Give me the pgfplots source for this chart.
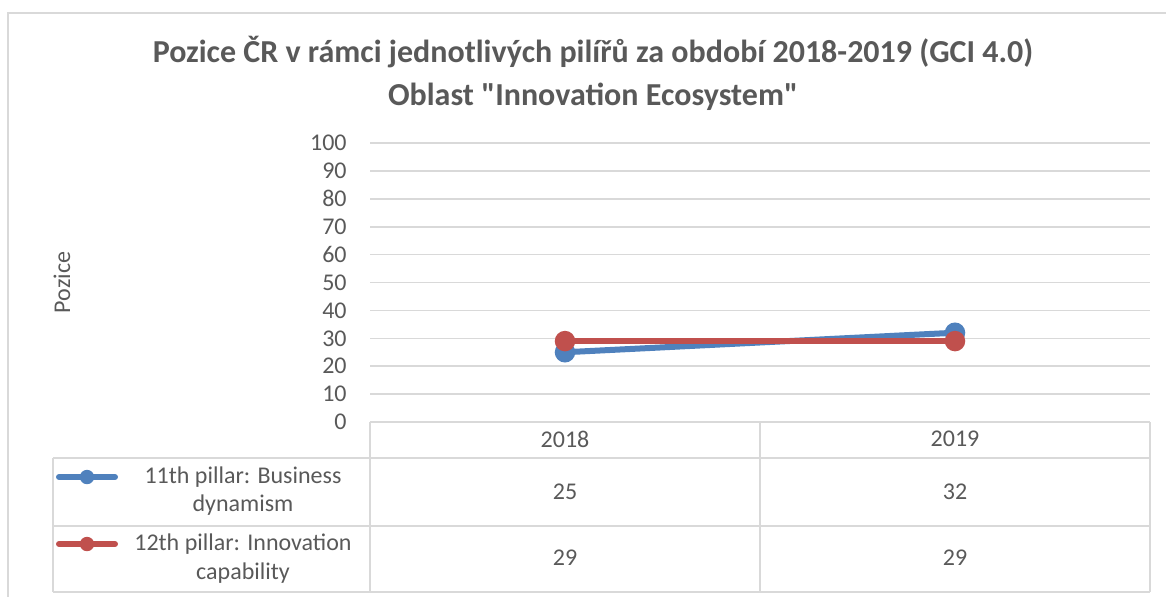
\documentclass[border=0pt]{standalone}
\usepackage{fontspec}
\setmainfont{Carlito}
\usepackage{pgfplots}
\pgfplotsset{compat=1.18}
\definecolor{txt}{HTML}{595959}
\definecolor{gridgray}{HTML}{D9D9D9}
\definecolor{sblue}{HTML}{4F81BD}
\definecolor{sred}{HTML}{C0504D}

\begin{document}
\begin{tikzpicture}
  % frame and table drawn in px of the reference (y running down)
  \begin{scope}[x=0.5pt, y=-0.5pt, shift={(0pt,298pt)}]
    \useasboundingbox (0,0) rectangle (1166,596);
    \draw[gridgray, line width=1pt] (8,600) -- (8,13) -- (1170,13);

    \node[txt, font=\fontsize{16}{21.5}\selectfont\bfseries, align=center]
      at (593,73) {Pozice ČR v rámci jednotlivých pilířů za období 2018-2019 (GCI 4.0)\\Oblast \textquotedbl Innovation Ecosystem\textquotedbl};

    \draw[gridgray, line width=1pt]
      (370,422) -- (1150,422)
      (370,422) -- (370,592)
      (760,422) -- (760,592)
      (1150,422) -- (1150,592)
      (53,458) -- (1150,458)
      (53,526) -- (1150,526)
      (53,592) -- (1150,592)
      (53,458) -- (53,592);

    \draw[sblue, line width=3pt, line cap=round] (59,477) -- (115,477);
    \fill[sblue] (87,477) circle (7.2);
    \draw[sred, line width=3pt, line cap=round] (59,544) -- (115,544);
    \fill[sred] (87,544) circle (7.2);

    \begin{scope}[every node/.style={txt, font=\fontsize{12}{14}\selectfont, inner sep=0pt}]
      \node at (243,477) {11th pillar: Business};
      \node at (243,505) {dynamism};
      \node at (243,544) {12th pillar: Innovation};
      \node at (243,573) {capability};
      \node at (565,492) {25};
      \node at (955,492) {32};
      \node at (565,558) {29};
      \node at (955,558) {29};
    \end{scope}
  \end{scope}

  \begin{axis}[
      at={(185pt,87pt)}, anchor=south west,
      scale only axis, width=390pt, height=139.5pt,
      xmin=-0.5, xmax=1.5, ymin=0, ymax=100,
      ytick={0,10,...,100},
      xtick={0,1}, xticklabels={2018,2019},
      major tick length=0pt,
      axis line style={draw=none},
      xmajorgrids=false, ymajorgrids=true,
      grid style={draw=gridgray, line width=0.8pt},
      tick label style={txt, font=\fontsize{12}{14}\selectfont},
      yticklabel style={inner sep=0pt, xshift=-11.5pt},
      xticklabel style={inner sep=0pt, anchor=center, yshift=-8.5pt},
      /pgf/number format/assume math mode=true,
      ylabel={Pozice},
      every axis y label/.style={at={(rel axis cs:0,0.5)}, xshift=-154pt,
        rotate=90, anchor=center, txt, font=\fontsize{12}{14}\selectfont},
      clip=false,
    ]
    \addplot[sblue, line width=3pt, mark=*, mark size=3.6pt] coordinates {(0,25) (1,32)};
    \addplot[sred, line width=3pt, mark=*, mark size=3.6pt] coordinates {(0,29) (1,29)};
  \end{axis}
\end{tikzpicture}
\end{document}
